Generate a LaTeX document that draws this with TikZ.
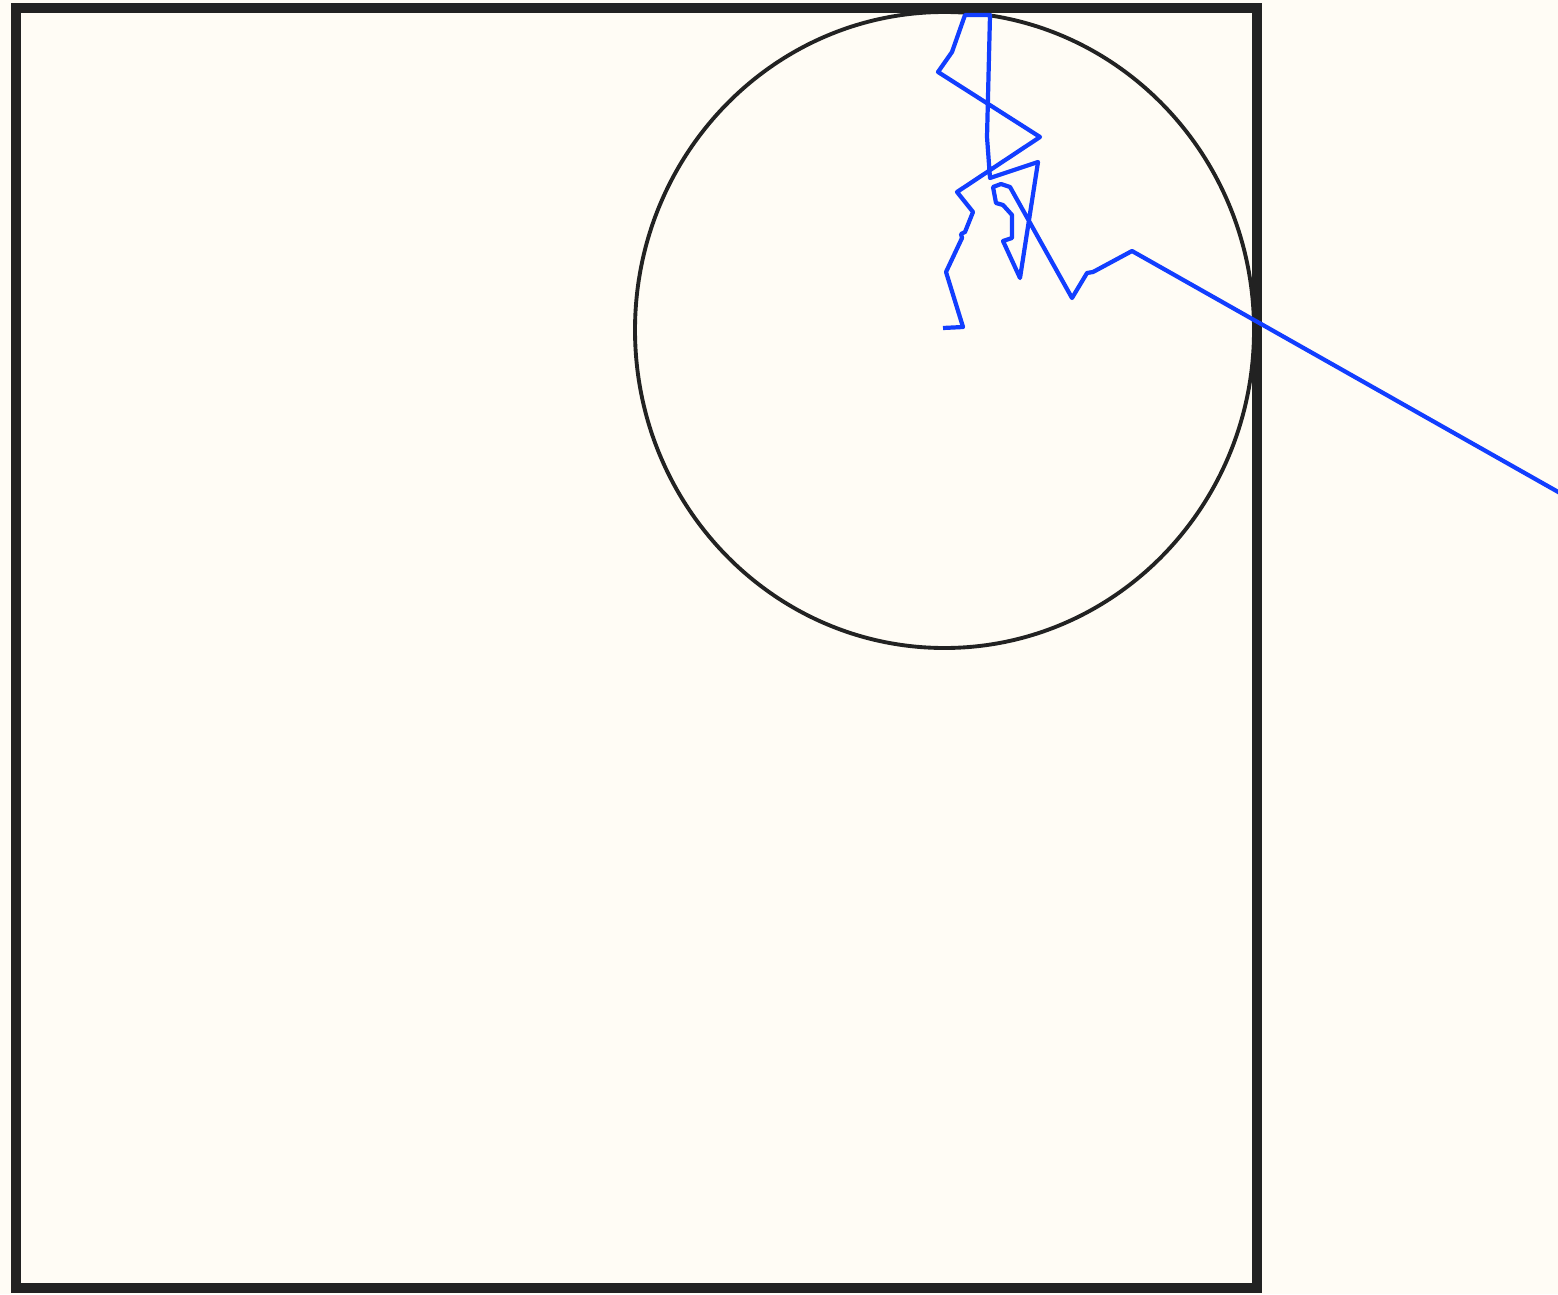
\documentclass[tikz,border=0pt]{standalone}
\usetikzlibrary{calc}
\definecolor{paper}{RGB}{255,252,245}
\definecolor{walkblue}{RGB}{18,62,255}
\definecolor{ink}{RGB}{34,34,34}

\begin{document}
\begin{tikzpicture}[
    x=0.01cm, y=-0.01cm,
    frame/.style={draw=ink, line width=2.6pt},
    disc/.style={draw=ink, line width=1.1pt},
    walk/.style={draw=walkblue, line width=1.2pt, line join=round}
]

%% paper and bounds
\fill[paper] (0,0) rectangle (1558,1294);
\useasboundingbox (0,0) rectangle (1558,1294);
\clip (0,0) rectangle (1558,1294);

%% box
\draw[frame] (16,8) rectangle (1257,1288);

%% circle round the start
\coordinate (centre) at (944.5,330);
\draw[disc] (centre) ellipse [x radius=309.5, y radius=318];

%% the walk, from the centre out
\draw[walk] (943,328) -- (963,327) -- (946,272) -- (962,238) -- (961,234)
    -- (965,232) -- (973,212) -- (957,192) -- (1040,137) -- (938,72)
    -- (952,52) -- (965,15) -- (990,15) -- (987,137) -- (990,178)
    -- (1038,162) -- (1020,278) -- (1003,241) -- (1012,238) -- (1012,215)
    -- (1003,205) -- (996,203) -- (993,187) -- (1001,184) -- (1010,187)
    -- (1072,298) -- (1087,273) -- (1093,272) -- (1132,251) -- (1560,493);

\end{tikzpicture}
\end{document}
